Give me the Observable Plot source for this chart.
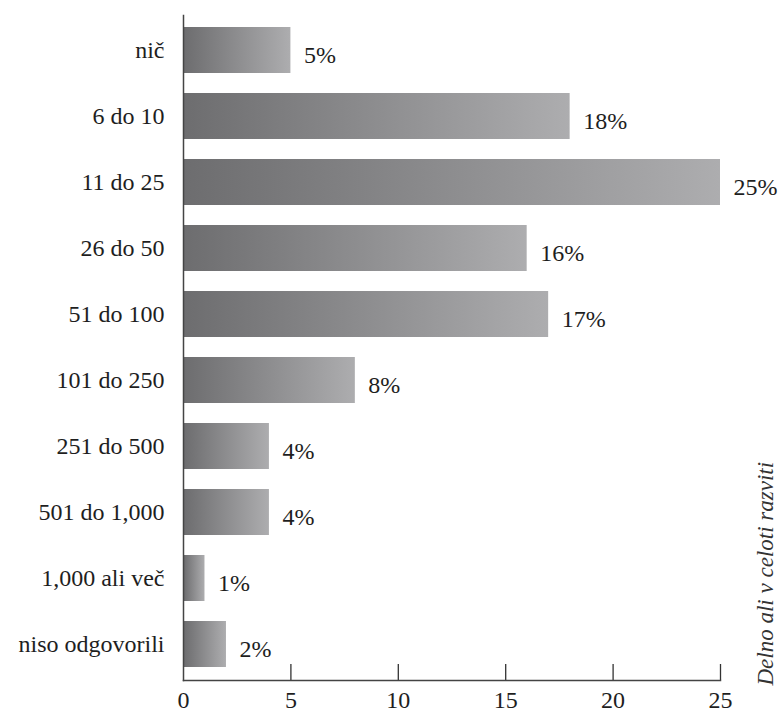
<!DOCTYPE html>
<html>
<head>
<meta charset="utf-8">
<script src="https://cdn.jsdelivr.net/npm/d3@7"></script>
<script src="https://cdn.jsdelivr.net/npm/@observablehq/plot@0.6"></script>
<style>
  html, body { margin: 0; padding: 0; background: #fff; }
</style>
</head>
<body>
<div id="chart"></div>
<script>
// Share of respondents per answer group (percent)
const categories = [
  "nič", "6 do 10", "11 do 25", "26 do 50", "51 do 100",
  "101 do 250", "251 do 500", "501 do 1,000", "1,000 ali več", "niso odgovorili"
];
const shares = [5, 18, 25, 16, 17, 8, 4, 4, 1, 2];
const xTicks = [0, 5, 10, 15, 20, 25];
const sideLabel = "Delno ali v celoti razviti";

const rows = categories.map((category, i) => ({ category, share: shares[i] }));

// Horizontal grey gradient shared by all bars (per-bar bounding box)
const shadeDefs = () => {
  const defs = d3.create("svg:defs");
  const lg = defs.append("linearGradient").attr("id", "barShade")
    .attr("x1", "0%").attr("x2", "100%").attr("y1", "0%").attr("y2", "0%");
  lg.append("stop").attr("offset", "0%").attr("stop-color", "#6d6d6f");
  lg.append("stop").attr("offset", "100%").attr("stop-color", "#adadaf");
  return defs.node();
};

const chart = Plot.plot({
  width: 784,
  height: 712,
  marginTop: 15,
  marginBottom: 32,
  marginLeft: 183,
  marginRight: 64,
  style: {
    fontFamily: "'Liberation Serif', 'Times New Roman', serif",
    fontSize: "24px",
    color: "#1e1e1e",
    background: "#fff",
    overflow: "visible"
  },
  x: { domain: [0, 25], ticks: xTicks },
  y: { domain: categories, paddingInner: 0.3, paddingOuter: 0.15, label: null },
  marks: [
    shadeDefs,
    Plot.barX(rows, { y: "category", x: "share", fill: "url(#barShade)", insetLeft: 1 }),
    Plot.text(rows, {
      y: "category", x: "share",
      text: d => `${d.share}%`,
      textAnchor: "start", dx: 13, dy: 5
    }),
    Plot.axisY({ tickSize: 0, tickPadding: 19, label: null }),
    Plot.axisX({ ticks: xTicks, tickSize: 0, tickPadding: 10, label: null }),
    Plot.ruleX(xTicks.slice(1), { insetTop: 649, stroke: "#333", strokeWidth: 1.3 }),
    Plot.frame({ anchor: "left", stroke: "#444", strokeWidth: 1.5 }),
    Plot.frame({ anchor: "bottom", stroke: "#444", strokeWidth: 1.5 }),
    Plot.text([sideLabel], {
      frameAnchor: "bottom-right", rotate: -90, textAnchor: "start",
      dx: 52, dy: 5, fontStyle: "italic", fontSize: 23, fill: "#333"
    })
  ]
});

document.getElementById("chart").appendChild(chart);
</script>
</body>
</html>
